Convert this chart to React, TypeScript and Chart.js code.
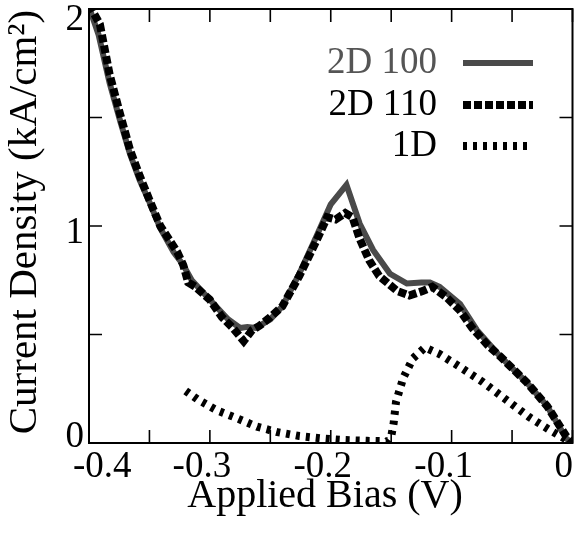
import React, { useEffect, useRef } from "react";
import { Chart, registerables } from "chart.js";

Chart.register(...registerables);

// ---- data ----
const seriesNames = ["2D 100", "2D 110", "1D"];

const bias2D100 = [
  -0.4, -0.392, -0.383, -0.374, -0.366, -0.358, -0.35, -0.341, -0.33, -0.322,
  -0.315, -0.3, -0.285, -0.275, -0.269, -0.262, -0.25, -0.24, -0.226, -0.212,
  -0.2, -0.187, -0.176, -0.165, -0.151, -0.137, -0.125, -0.118, -0.11, -0.093,
  -0.079, -0.06, -0.038, -0.021, -0.005, 0.0,
];
const j2D100 = [
  2.01, 1.88, 1.66, 1.48, 1.33, 1.21, 1.11, 0.99, 0.88, 0.82,
  0.75, 0.66, 0.57, 0.53, 0.535, 0.53, 0.57, 0.63, 0.78, 0.95,
  1.1, 1.19, 1.01, 0.89, 0.78, 0.735, 0.74, 0.74, 0.72, 0.64,
  0.52, 0.4, 0.28, 0.17, 0.02, 0.0,
];

const bias2D110 = [
  -0.4, -0.391, -0.383, -0.374, -0.366, -0.358, -0.35, -0.341, -0.327, -0.322,
  -0.318, -0.312, -0.3, -0.29, -0.281, -0.272, -0.265, -0.259, -0.25, -0.24,
  -0.226, -0.212, -0.203, -0.196, -0.188, -0.182, -0.176, -0.168, -0.16, -0.145,
  -0.135, -0.124, -0.116, -0.104, -0.093, -0.083, -0.07, -0.06, -0.038, -0.021,
  -0.005, 0.0,
];
const j2D110 = [
  2.02, 1.93, 1.7, 1.51, 1.35, 1.23, 1.12, 1.0, 0.88, 0.82,
  0.74, 0.72, 0.66, 0.58, 0.53, 0.47, 0.52, 0.54, 0.58, 0.63,
  0.77, 0.93, 1.04, 1.03, 1.06, 1.04, 0.94, 0.84, 0.77, 0.7,
  0.68, 0.7, 0.72, 0.67, 0.61, 0.53, 0.45, 0.4, 0.28, 0.17,
  0.03, 0.0,
];

const bias1D = [
  -0.32, -0.31, -0.294, -0.278, -0.261, -0.244, -0.226, -0.209, -0.19, -0.17,
  -0.153, -0.15, -0.148, -0.146, -0.14, -0.132, -0.122, -0.11, -0.093, -0.074,
  -0.055, -0.036, -0.019, -0.005, 0.0,
];
const j1D = [
  0.24, 0.2, 0.15, 0.115, 0.075, 0.05, 0.032, 0.022, 0.014, 0.01,
  0.008, 0.03, 0.09, 0.19, 0.3, 0.39, 0.44, 0.41, 0.35, 0.28,
  0.2, 0.12, 0.06, 0.015, 0.0,
];

const xTickValues = [-0.4, -0.35, -0.3, -0.25, -0.2, -0.15, -0.1, -0.05, 0];
const xLabelValues = [-0.4, -0.3, -0.2, -0.1, 0];
const xLabels = ["-0.4", "-0.3", "-0.2", "-0.1", "0"];
const yTickValues = [0, 0.5, 1, 1.5, 2];
const yLabelValues = [0, 1, 2];
const yLabels = ["0", "1", "2"];

const xTitle = "Applied Bias (V)";
const yTitle = "Current Density (kA/cm\u00B2)";

const SERIF = '"Liberation Serif", "Times New Roman", serif';

const styles = [
  { color: "#4a4a4a", width: 6, dash: [] as number[] },
  { color: "#000000", width: 8, dash: [8, 3] },
  { color: "#000000", width: 8, dash: [4, 6] },
];
const legendTextColors = ["#555555", "#000000", "#000000"];

const toPoints = (xs: number[], ys: number[]) => xs.map((x, i) => ({ x, y: ys[i] }));

const framePlugin = {
  id: "frame",
  afterDatasetsDraw(chart: any) {
    const { ctx, chartArea: a, scales } = chart;
    const x = scales.x;
    const y = scales.y;
    ctx.save();
    // frame
    ctx.strokeStyle = "#000";
    ctx.lineWidth = 2;
    ctx.setLineDash([]);
    ctx.strokeRect(a.left, a.top, a.right - a.left, a.bottom - a.top);
    // inward ticks
    const tl = 13;
    ctx.lineWidth = 1.6;
    ctx.beginPath();
    xTickValues.forEach((v) => {
      const px = x.getPixelForValue(v);
      ctx.moveTo(px, a.bottom);
      ctx.lineTo(px, a.bottom - tl);
      ctx.moveTo(px, a.top);
      ctx.lineTo(px, a.top + tl);
    });
    yTickValues.forEach((v) => {
      const py = y.getPixelForValue(v);
      ctx.moveTo(a.left, py);
      ctx.lineTo(a.left + tl, py);
      ctx.moveTo(a.right, py);
      ctx.lineTo(a.right - tl, py);
    });
    ctx.stroke();

    // tick labels
    ctx.fillStyle = "#000";
    ctx.font = `37px ${SERIF}`;
    ctx.textBaseline = "middle";
    ctx.textAlign = "center";
    xLabelValues.forEach((v, i) => {
      const w = ctx.measureText(xLabels[i]).width;
      let cx = x.getPixelForValue(v) - 8;
      cx = Math.max(cx, 73 + w / 2);
      cx = Math.min(cx, 573 - w / 2);
      ctx.fillText(xLabels[i], cx, a.bottom + 24);
    });
    ctx.textAlign = "right";
    yLabelValues.forEach((v, i) => {
      let cy = y.getPixelForValue(v) + 7;
      cy = Math.max(cy, a.top + 11);
      cy = Math.min(cy, a.bottom - 6);
      ctx.fillText(yLabels[i], 84, cy);
    });

    // axis titles
    ctx.font = `40px ${SERIF}`;
    ctx.textAlign = "center";
    ctx.fillText(xTitle, 325, 496);
    ctx.save();
    ctx.translate(25, 222);
    ctx.rotate(-Math.PI / 2);
    ctx.font = `41px ${SERIF}`;
    ctx.fillText(yTitle, 0, 0);
    ctx.restore();

    // legend
    const rows = [63, 105, 146];
    ctx.font = `37px ${SERIF}`;
    ctx.textAlign = "right";
    seriesNames.forEach((name, i) => {
      ctx.fillStyle = legendTextColors[i];
      ctx.fillText(name, 437, rows[i]);
      ctx.strokeStyle = styles[i].color;
      ctx.lineWidth = styles[i].width;
      ctx.lineCap = "butt";
      ctx.setLineDash(styles[i].dash);
      ctx.beginPath();
      ctx.moveTo(463, rows[i]);
      ctx.lineTo(533, rows[i]);
      ctx.stroke();
    });
    ctx.restore();
  },
};

export default function App() {
  const canvasRef = useRef<HTMLCanvasElement | null>(null);

  useEffect(() => {
    const canvas = canvasRef.current;
    if (!canvas) return;
    const chart = new Chart(canvas, {
      type: "line",
      data: {
        datasets: [
          {
            label: seriesNames[0],
            data: toPoints(bias2D100, j2D100),
            borderColor: styles[0].color,
            borderWidth: styles[0].width,
            borderDash: styles[0].dash,
            pointRadius: 0,
            tension: 0,
            order: 3,
          },
          {
            label: seriesNames[1],
            data: toPoints(bias2D110, j2D110),
            borderColor: styles[1].color,
            borderWidth: styles[1].width,
            borderDash: styles[1].dash,
            pointRadius: 0,
            tension: 0,
            order: 1,
          },
          {
            label: seriesNames[2],
            data: toPoints(bias1D, j1D),
            borderColor: styles[2].color,
            borderWidth: styles[2].width,
            borderDash: styles[2].dash,
            pointRadius: 0,
            tension: 0,
            order: 2,
          },
        ],
      },
      options: {
        animation: false,
        responsive: false,
        devicePixelRatio: 1,
        layout: { padding: { left: 89, right: 1.5, top: 9, bottom: 91 } },
        plugins: { legend: { display: false }, tooltip: { enabled: false } },
        scales: {
          x: { type: "linear", min: -0.4, max: 0, display: false },
          y: { type: "linear", min: 0, max: 2, display: false },
        },
      },
      plugins: [framePlugin],
    });
    return () => chart.destroy();
  }, []);

  return (
    <div style={{ position: "fixed", left: 0, top: 0, width: 574, height: 534, background: "#fff" }}>
      <canvas ref={canvasRef} width={574} height={534} />
    </div>
  );
}
